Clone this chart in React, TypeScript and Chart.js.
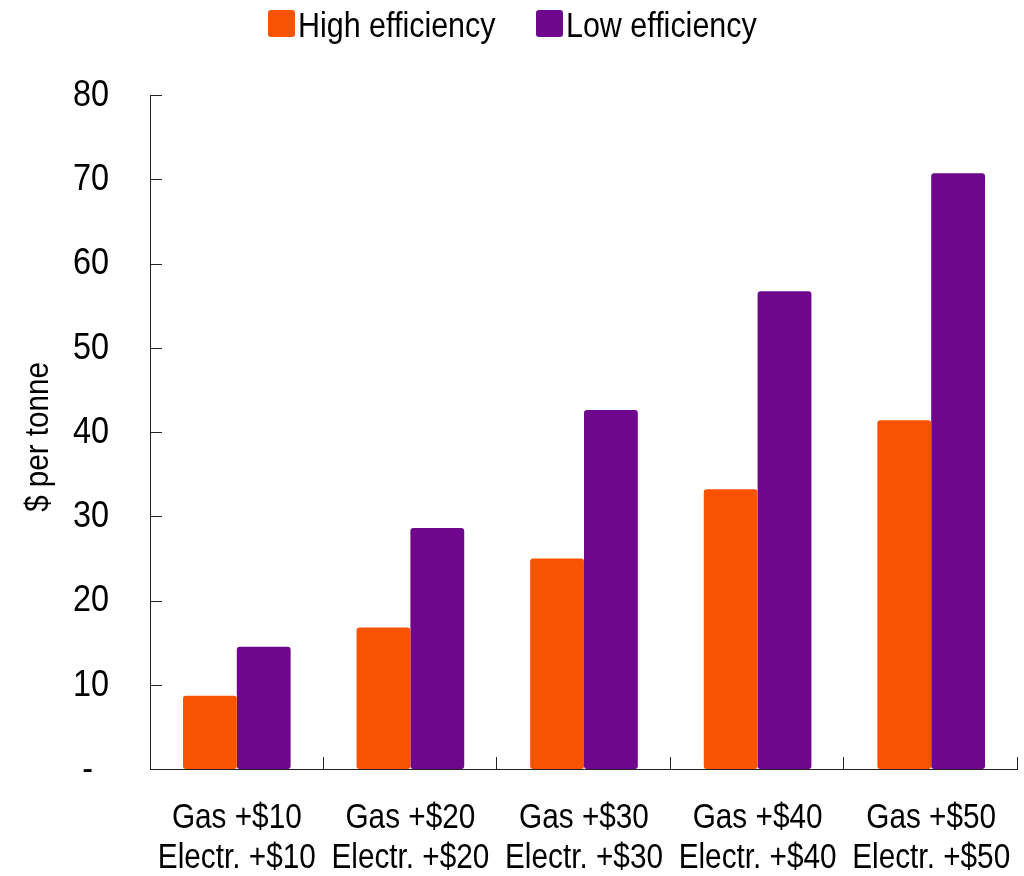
import React, { useEffect, useRef } from "react";
import { Chart, registerables } from "chart.js";

Chart.register(...registerables);

const categories: string[][] = [
  ["Gas +$10", "Electr. +$10"],
  ["Gas +$20", "Electr. +$20"],
  ["Gas +$30", "Electr. +$30"],
  ["Gas +$40", "Electr. +$40"],
  ["Gas +$50", "Electr. +$50"],
];
const seriesNames = ["High efficiency", "Low efficiency"];
const highEfficiency = [8.7, 16.8, 25.0, 33.2, 41.4];
const lowEfficiency = [14.5, 28.6, 42.6, 56.7, 70.7];
const yTickValues = [0, 10, 20, 30, 40, 50, 60, 70, 80];
const yTickLabels = ["-", "10", "20", "30", "40", "50", "60", "70", "80"];
const yTitle = "$ per tonne";

const ORANGE = "#F95200";
const PURPLE = "#6E078C";
const AXIS = "#222222";
const FONT = "'Liberation Sans', Arial, sans-serif";

// Draws text squeezed horizontally to give a narrow sans face
function narrowText(
  ctx: CanvasRenderingContext2D,
  text: string,
  x: number,
  y: number,
  opts: { size: number; sx: number; align: CanvasTextAlign; baseline: CanvasTextBaseline; rotate?: number }
) {
  ctx.save();
  ctx.translate(x, y);
  if (opts.rotate) ctx.rotate(opts.rotate);
  ctx.scale(opts.sx, 1);
  ctx.font = `${opts.size}px ${FONT}`;
  ctx.fillStyle = "#000";
  ctx.textAlign = opts.align;
  ctx.textBaseline = opts.baseline;
  ctx.fillText(text, 0, 0);
  ctx.restore();
}

// Axis lines, inward tick marks, tick labels, axis title and legend
const decorations = {
  id: "decorations",
  afterDatasetsDraw(chart: any) {
    const { ctx, chartArea, scales } = chart;
    const y = scales.y;
    const x = scales.x;
    ctx.save();
    ctx.strokeStyle = AXIS;
    ctx.lineWidth = 1;
    ctx.beginPath();
    ctx.moveTo(chartArea.left + 0.5, chartArea.top);
    ctx.lineTo(chartArea.left + 0.5, chartArea.bottom + 0.5);
    ctx.lineTo(chartArea.right, chartArea.bottom + 0.5);
    ctx.stroke();
    ctx.beginPath();
    for (const v of yTickValues) {
      const py = Math.round(y.getPixelForValue(v)) + 0.5;
      ctx.moveTo(chartArea.left, py);
      ctx.lineTo(chartArea.left + 12, py);
    }
    const n = categories.length;
    const w = (chartArea.right - chartArea.left) / n;
    for (let k = 1; k <= n; k++) {
      const px = Math.round(chartArea.left + w * k) - 0.5;
      ctx.moveTo(px, chartArea.bottom);
      ctx.lineTo(px, chartArea.bottom - 12);
    }
    ctx.stroke();
    ctx.restore();

    // y tick labels
    yTickValues.forEach((v, i) => {
      const py = y.getPixelForValue(v);
      const label = yTickLabels[i];
      const rx = label === "-" ? chartArea.left - 57 : chartArea.left - 41;
      narrowText(ctx, label, rx, py + 1, { size: 36, sx: 0.9, align: "right", baseline: "middle" });
    });

    // x category labels, two lines each
    categories.forEach((lines, i) => {
      const cx = x.getPixelForValue(i);
      lines.forEach((line, j) => {
        narrowText(ctx, line, cx, chartArea.bottom + 59 + j * 40, {
          size: 35,
          sx: 0.85,
          align: "center",
          baseline: "alphabetic",
        });
      });
    });

    // y axis title
    narrowText(ctx, yTitle, 39, (chartArea.top + chartArea.bottom) / 2 + 5, {
      size: 34,
      sx: 0.87,
      align: "center",
      baseline: "middle",
      rotate: -Math.PI / 2,
    });

    // legend
    const legendItems = [
      { color: ORANGE, boxX: 268, textX: 298 },
      { color: PURPLE, boxX: 536, textX: 566 },
    ];
    legendItems.forEach((item, i) => {
      ctx.save();
      ctx.fillStyle = item.color;
      ctx.beginPath();
      (ctx as any).roundRect(item.boxX, 10, 27, 27, 3);
      ctx.fill();
      ctx.restore();
      narrowText(ctx, seriesNames[i], item.textX, 37, {
        size: 35,
        sx: 0.87,
        align: "left",
        baseline: "alphabetic",
      });
    });
  },
};

export default function App() {
  const canvasRef = useRef<HTMLCanvasElement | null>(null);

  useEffect(() => {
    if (!canvasRef.current) return;
    const chart = new Chart(canvasRef.current, {
      type: "bar",
      data: {
        labels: categories,
        datasets: [
          {
            label: seriesNames[0],
            data: highEfficiency,
            backgroundColor: ORANGE,
            borderRadius: 3,
            borderSkipped: false,
            categoryPercentage: 0.62,
            barPercentage: 1,
          },
          {
            label: seriesNames[1],
            data: lowEfficiency,
            backgroundColor: PURPLE,
            borderRadius: 3,
            borderSkipped: false,
            categoryPercentage: 0.62,
            barPercentage: 1,
          },
        ],
      },
      options: {
        responsive: false,
        animation: false,
        layout: { padding: { top: 95, right: 6, bottom: 0, left: 0 } },
        plugins: {
          legend: { display: false },
          tooltip: { enabled: false },
        },
        scales: {
          x: {
            afterFit(scale: any) {
              scale.height = 107;
              scale.paddingLeft = 0;
              scale.paddingRight = 0;
            },
            grid: { display: false, drawTicks: false },
            border: { display: false },
            ticks: { display: false },
          },
          y: {
            min: 0,
            max: 80,
            afterFit(scale: any) {
              scale.width = 150;
            },
            afterBuildTicks(scale: any) {
              scale.ticks = yTickValues.map((v) => ({ value: v }));
            },
            grid: { display: false, drawTicks: false },
            border: { display: false },
            ticks: { display: false },
          },
        },
      },
      plugins: [decorations],
    });
    return () => chart.destroy();
  }, []);

  return (
    <div style={{ position: "fixed", left: 0, top: 0, width: 1024, height: 876, background: "#fff" }}>
      <canvas ref={canvasRef} width={1024} height={876} />
    </div>
  );
}
